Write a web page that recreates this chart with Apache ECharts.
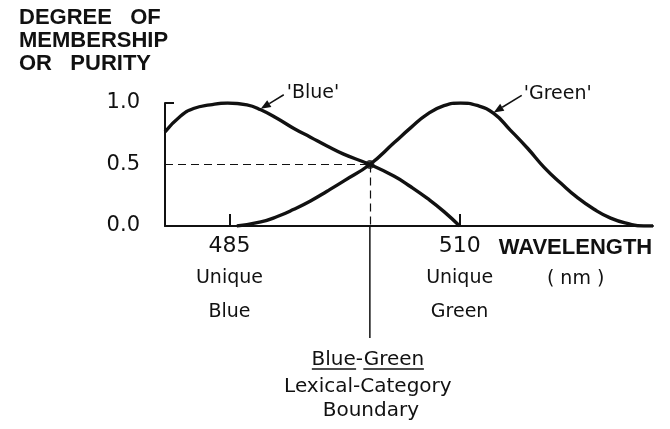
<!DOCTYPE html>
<html>
<head>
<meta charset="utf-8">
<script src="https://cdn.jsdelivr.net/npm/echarts@6/dist/echarts.min.js"></script>
<style>
  html, body { margin: 0; background: #fff; }
  #chart { width: 670px; height: 429px; }
</style>
</head>
<body>
<div id="chart"></div>
<script>
// values (wavelength in nm, membership 0..1)
const blueNm = [478, 479.7, 481.1, 482.9, 484.8, 486.9, 488.4, 490.2, 492.0, 493.8, 495.6, 497.4, 500.25, 502.9, 504.7, 506.5, 508.3, 510]
const blueVal = [0.765, 0.894, 0.955, 0.985, 1.0, 0.985, 0.945, 0.874, 0.793, 0.722, 0.65, 0.584, 0.5, 0.404, 0.319, 0.224, 0.117, 0]
const greenNm = [485.8, 488.4, 490.2, 492.0, 493.8, 495.6, 497.4, 500.25, 502.9, 504.7, 506.5, 508.3, 510.1, 511.9, 513.7, 515.5, 517.4, 519.2, 521, 522.8, 524.6, 526.4, 528.2, 530, 531]
const greenVal = [0, 0.033, 0.077, 0.136, 0.204, 0.283, 0.365, 0.5, 0.678, 0.80, 0.91, 0.978, 1.0, 0.98, 0.915, 0.78, 0.63, 0.475, 0.347, 0.23, 0.136, 0.064, 0.021, 0, 0]
const uniqueNm = [485, 510]
const uniqueWords = [['Unique', 'Blue'], ['Unique', 'Green']]
const boundaryNm = 500.25
const boundaryVal = 0.5
const blueArrowIdx = 6
const greenArrowIdx = 14

const ink = '#111'
const font = 'DejaVu Sans'
const pairs = (xs, ys) => xs.map((x, i) => [x, ys[i]])

const chart = echarts.init(document.getElementById('chart'))

chart.setOption({
  animation: false,
  backgroundColor: '#fff',
  title: {
    text: 'DEGREE   OF\nMEMBERSHIP\nOR   PURITY',
    left: 19, top: 6, padding: 0,
    textStyle: { fontFamily: 'Liberation Sans', fontWeight: 'bold', fontSize: 22, lineHeight: 23, color: ink },
  },
  grid: { left: 165, right: 17, top: 103, bottom: 203 },
  xAxis: {
    type: 'value',
    min: 478, max: 531,
    splitLine: { show: false },
    axisLine: { lineStyle: { color: ink, width: 2 } },
    axisTick: { customValues: uniqueNm, inside: true, length: 12, lineStyle: { color: ink, width: 2 } },
    axisLabel: {
      customValues: uniqueNm,
      margin: 5,
      formatter(v) {
        const w = uniqueWords[uniqueNm.indexOf(v)] || ['', '']
        return `{n|${v}}\n{t|${w[0]}}\n{t|${w[1]}}`
      },
      rich: {
        n: { fontFamily: font, fontSize: 22, lineHeight: 30, color: ink },
        t: { fontFamily: font, fontSize: 19, lineHeight: 34, color: ink },
      },
    },
  },
  yAxis: {
    type: 'value',
    min: 0, max: 1, interval: 0.5,
    splitLine: { show: false },
    axisLine: { show: true, lineStyle: { color: ink, width: 2 } },
    axisTick: { show: true, customValues: [1], inside: true, length: 9, lineStyle: { color: ink, width: 2 } },
    axisLabel: { margin: 25, fontFamily: font, fontSize: 21, color: ink, formatter: v => v.toFixed(1) },
  },
  series: [
    {
      name: 'Blue',
      type: 'line',
      data: pairs(blueNm, blueVal),
      smooth: 0.5,
      symbol: 'none',
      lineStyle: { color: ink, width: 3.4 },
      markLine: {
        silent: true,
        symbol: 'none',
        label: { show: false },
        lineStyle: { color: ink, width: 1.2, type: [8, 5] },
        data: [
          [{ coord: [478, boundaryVal] }, { coord: [boundaryNm, boundaryVal] }],
          [{ coord: [boundaryNm, boundaryVal] }, { coord: [boundaryNm, 0] }],
        ],
      },
    },
    {
      name: 'Green',
      type: 'line',
      data: pairs(greenNm, greenVal),
      smooth: 0.5,
      symbol: 'none',
      lineStyle: { color: ink, width: 3.4 },
    },
    {
      type: 'scatter',
      data: [[boundaryNm, boundaryVal]],
      symbolSize: 9,
      itemStyle: { color: ink },
    },
  ],
})

// annotations placed from data coordinates
const px = p => chart.convertToPixel({ gridIndex: 0 }, p)
const measure = document.createElement('canvas').getContext('2d')
function textW(s, size) {
  measure.font = `${size}px "${font}"`
  return measure.measureText(s).width
}

function arrow(head, dx, dy) {
  const len = Math.hypot(dx, dy)
  const ux = dx / len, uy = dy / len
  const hl = 10, hw = 4
  const bx = head[0] + ux * hl, by = head[1] + uy * hl
  return [
    { type: 'line', shape: { x1: bx, y1: by, x2: head[0] + dx, y2: head[1] + dy }, style: { stroke: ink, lineWidth: 1.5 } },
    {
      type: 'polygon',
      shape: { points: [head, [bx - uy * hw, by + ux * hw], [bx + uy * hw, by - ux * hw]] },
      style: { fill: ink },
    },
  ]
}

const pBlue = px([blueNm[blueArrowIdx], blueVal[blueArrowIdx]])
const pGreen = px([greenNm[greenArrowIdx], greenVal[greenArrowIdx]])
const pBound = px([boundaryNm, 0])
const p510 = px([uniqueNm[1], 0])
const cx = pBound[0] - 2

const wBlue = textW('Blue', 20), wDash = textW('-', 20), wGreen = textW('Green', 20)
const wAll = wBlue + wDash + wGreen
const ulY = 369

const txt = (x, y, text, extra) => ({
  type: 'text', x, y,
  style: Object.assign({ text, fill: ink, fontFamily: font, fontSize: 20, align: 'center', verticalAlign: 'middle' }, extra),
})

chart.setOption({
  graphic: [
    ...arrow([pBlue[0], pBlue[1] - 1], 23, -14),
    txt(pBlue[0] + 26, pBlue[1] - 17, "'Blue'", { align: 'left', fontSize: 19 }),
    ...arrow([pGreen[0], pGreen[1] - 1], 28, -17),
    txt(pGreen[0] + 30, pGreen[1] - 19, "'Green'", { align: 'left', fontSize: 19 }),
    { type: 'line', shape: { x1: pBound[0], y1: pBound[1], x2: pBound[0], y2: 338 }, style: { stroke: ink, lineWidth: 1.5 } },
    txt(cx, 360, 'Blue-Green'),
    { type: 'line', shape: { x1: cx - wAll / 2, y1: ulY, x2: cx - wAll / 2 + wBlue, y2: ulY }, style: { stroke: ink, lineWidth: 1.5 } },
    { type: 'line', shape: { x1: cx + wAll / 2 - wGreen, y1: ulY, x2: cx + wAll / 2, y2: ulY }, style: { stroke: ink, lineWidth: 1.5 } },
    txt(cx, 387, 'Lexical-Category'),
    txt(cx + 3, 411, 'Boundary'),
    txt(p510[0] + 39, 248, 'WAVELENGTH', { align: 'left', fontFamily: 'Liberation Sans', fontWeight: 'bold', fontSize: 22 }),
    txt(p510[0] + 116, 279, '( nm )', { fontSize: 19 }),
  ],
})
</script>
</body>
</html>
